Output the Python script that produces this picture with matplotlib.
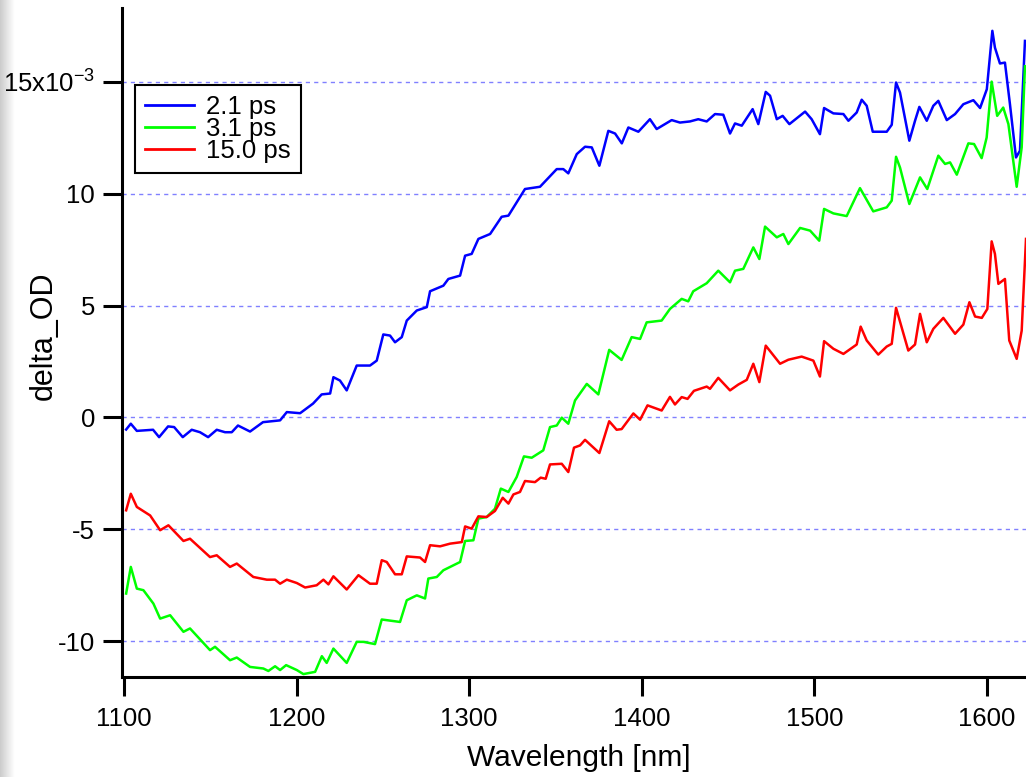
import numpy as np
import matplotlib
matplotlib.use('Agg')
import matplotlib.pyplot as plt

plt.rcParams['font.family'] = ['Liberation Sans', 'DejaVu Sans']
plt.rcParams['mathtext.fontset'] = 'custom'
plt.rcParams['mathtext.rm'] = 'Liberation Sans'
plt.rcParams['mathtext.default'] = 'regular'
plt.rcParams['axes.unicode_minus'] = False

# transient spectra, delta OD in units of 1e-3
wl_21 = [1101.2, 1103.9, 1107.4, 1116.8, 1120.3, 1125.5, 1129.0, 1134.0, 1139.2, 1144.0,
         1148.7, 1153.7, 1158.5, 1162.4, 1166.0, 1173.0, 1180.5, 1190.4, 1194.3, 1202.0,
         1209.5, 1214.5, 1219.4, 1221.3, 1225.1, 1229.0, 1234.8, 1242.5, 1246.4, 1250.2,
         1254.1, 1257.0, 1260.9, 1263.8, 1269.6, 1275.4, 1277.3, 1285.0, 1287.9, 1294.7,
         1297.6, 1301.4, 1305.3, 1312.1, 1318.8, 1322.7, 1332.3, 1341.0, 1350.7, 1354.5,
         1357.4, 1362.3, 1367.1, 1371.0, 1375.4, 1380.6, 1384.5, 1388.4, 1392.2, 1398.0,
         1404.7, 1408.6, 1417.3, 1422.1, 1427.9, 1432.7, 1437.6, 1442.4, 1447.2, 1451.1,
         1454.0, 1457.9, 1464.2, 1467.5, 1471.8, 1474.3, 1478.2, 1481.6, 1485.5, 1494.6,
         1498.4, 1503.2, 1505.6, 1511.0, 1516.8, 1519.7, 1524.5, 1527.4, 1530.3, 1533.8,
         1541.9, 1544.8, 1547.3, 1549.6, 1555.0, 1558.3, 1560.8, 1565.1, 1568.9, 1571.8,
         1576.7, 1581.5, 1586.3, 1592.1, 1596.0, 1599.9, 1603.1, 1604.6, 1607.5, 1610.4,
         1613.3, 1616.8, 1619.1, 1622.0]
od_21 = [-0.54, -0.28, -0.60, -0.55, -0.88, -0.40, -0.43, -0.88, -0.55, -0.66,
         -0.88, -0.55, -0.66, -0.66, -0.36, -0.63, -0.21, -0.13, 0.24, 0.19,
         0.62, 1.03, 1.07, 1.80, 1.65, 1.21, 2.32, 2.32, 2.54, 3.71,
         3.66, 3.36, 3.59, 4.33, 4.78, 4.93, 5.64, 5.89, 6.19, 6.34,
         7.23, 7.31, 7.98, 8.20, 8.97, 9.02, 10.21, 10.31, 11.10, 11.10,
         10.91, 11.77, 12.10, 12.07, 11.25, 12.81, 12.69, 12.25, 12.96, 12.77,
         13.33, 12.89, 13.29, 13.18, 13.23, 13.33, 13.23, 13.56, 13.53, 12.69,
         13.14, 13.04, 13.78, 13.11, 14.55, 14.38, 13.33, 13.48, 13.11, 13.67,
         13.33, 12.66, 13.83, 13.59, 13.56, 13.26, 13.63, 14.20, 13.93, 12.77,
         12.77, 13.08, 14.97, 14.52, 12.37, 13.26, 13.88, 13.26, 13.93, 14.15,
         13.29, 13.56, 14.00, 14.18, 13.83, 14.67, 17.28, 16.53, 15.82, 15.86,
         14.00, 11.62, 11.92, 16.83]

wl_31 = [1101.2, 1103.9, 1107.4, 1111.2, 1117.0, 1120.9, 1126.7, 1134.4, 1138.2, 1149.8,
         1152.7, 1161.4, 1165.3, 1173.0, 1180.7, 1183.6, 1187.5, 1190.4, 1193.9, 1200.1,
         1203.9, 1210.7, 1214.6, 1217.4, 1221.3, 1229.0, 1234.8, 1238.7, 1245.4, 1249.3,
         1259.9, 1263.8, 1269.6, 1274.4, 1276.3, 1281.2, 1285.0, 1294.7, 1297.6, 1302.4,
         1305.3, 1310.1, 1314.9, 1318.3, 1322.7, 1327.5, 1331.7, 1336.2, 1342.9, 1346.8,
         1350.7, 1353.6, 1357.4, 1361.3, 1368.1, 1374.8, 1381.1, 1388.3, 1394.1, 1399.0,
         1402.8, 1411.5, 1416.3, 1423.1, 1426.9, 1429.8, 1437.6, 1444.3, 1451.1, 1454.0,
         1458.8, 1464.6, 1468.1, 1471.4, 1478.2, 1482.0, 1484.9, 1491.7, 1497.5, 1502.8,
         1505.6, 1511.0, 1518.7, 1526.4, 1534.1, 1541.9, 1544.8, 1547.3, 1549.6, 1555.0,
         1561.2, 1565.4, 1571.8, 1575.7, 1578.6, 1582.5, 1589.2, 1592.5, 1596.9, 1599.8,
         1602.7, 1605.9, 1609.4, 1612.4, 1617.2, 1620.1, 1622.0]
od_31 = [-7.87, -6.68, -7.65, -7.72, -8.32, -8.99, -8.84, -9.58, -9.43, -10.40,
         -10.25, -10.85, -10.73, -11.15, -11.22, -11.33, -11.12, -11.29, -11.07, -11.29,
         -11.47, -11.37, -10.67, -10.97, -10.33, -10.97, -10.03, -10.03, -10.13, -9.03,
         -9.14, -8.17, -7.95, -8.09, -7.20, -7.13, -6.83, -6.46, -5.52, -5.49,
         -4.52, -4.45, -4.08, -3.18, -3.33, -2.66, -1.74, -1.80, -1.47, -0.43,
         -0.36, -0.01, -0.28, 0.76, 1.50, 1.03, 3.02, 2.57, 3.59, 3.51,
         4.25, 4.33, 4.85, 5.30, 5.19, 5.64, 6.00, 6.56, 6.04, 6.56,
         6.64, 7.60, 7.08, 8.53, 8.05, 8.20, 7.75, 8.47, 8.35, 7.90,
         9.32, 9.12, 9.00, 10.25, 9.21, 9.39, 9.69, 11.65, 11.17, 9.54,
         10.73, 10.21, 11.70, 11.33, 11.40, 10.85, 12.25, 12.22, 11.59, 12.51,
         15.01, 13.48, 13.85, 13.11, 10.31, 12.07, 15.70]

wl_150 = [1101.2, 1103.9, 1107.4, 1115.1, 1120.9, 1125.7, 1134.4, 1138.2, 1149.8, 1153.7,
          1161.4, 1165.3, 1174.9, 1182.7, 1187.5, 1190.4, 1194.3, 1200.1, 1204.9, 1211.6,
          1215.5, 1218.4, 1221.3, 1229.0, 1235.8, 1242.5, 1246.4, 1249.3, 1252.2, 1257.0,
          1260.9, 1263.8, 1271.5, 1274.4, 1277.3, 1283.1, 1288.9, 1295.7, 1297.6, 1301.4,
          1305.3, 1310.1, 1314.9, 1319.4, 1322.7, 1325.6, 1329.4, 1332.3, 1338.1, 1341.4,
          1344.3, 1346.8, 1353.6, 1357.4, 1360.7, 1364.2, 1367.1, 1375.4, 1381.1, 1385.4,
          1388.3, 1395.1, 1399.0, 1403.3, 1411.5, 1416.3, 1419.2, 1423.1, 1426.5, 1430.2,
          1437.6, 1439.5, 1444.3, 1451.1, 1455.9, 1460.8, 1464.6, 1468.1, 1471.8, 1480.1,
          1484.9, 1492.6, 1499.4, 1503.2, 1505.6, 1511.0, 1516.8, 1524.5, 1526.8, 1530.3,
          1537.0, 1541.9, 1544.8, 1547.3, 1554.4, 1558.3, 1561.2, 1565.1, 1568.9, 1574.7,
          1581.5, 1586.3, 1589.8, 1593.1, 1597.0, 1600.2, 1602.7, 1604.6, 1606.6, 1610.4,
          1612.9, 1617.2, 1620.1, 1622.6]
od_150 = [-4.15, -3.41, -4.00, -4.38, -5.04, -4.82, -5.52, -5.42, -6.24, -6.16,
          -6.68, -6.53, -7.13, -7.25, -7.25, -7.43, -7.25, -7.40, -7.60, -7.50,
          -7.25, -7.46, -7.10, -7.69, -7.05, -7.43, -7.43, -6.38, -6.46, -7.01,
          -7.01, -6.21, -6.26, -6.46, -5.71, -5.76, -5.64, -5.57, -4.87, -4.97,
          -4.42, -4.45, -4.18, -3.59, -3.85, -3.44, -3.33, -2.84, -2.89, -2.69,
          -2.74, -2.10, -2.07, -2.44, -1.35, -1.25, -1.00, -1.59, -0.17, -0.55,
          -0.52, 0.18, -0.10, 0.54, 0.31, 0.92, 0.58, 0.91, 0.83, 1.19,
          1.38, 1.28, 1.77, 1.21, 1.47, 1.68, 2.40, 1.58, 3.21, 2.40,
          2.58, 2.72, 2.54, 1.83, 3.41, 3.07, 2.84, 3.26, 4.06, 3.44,
          2.81, 3.17, 3.29, 4.90, 2.99, 3.26, 4.63, 3.36, 3.96, 4.45,
          3.74, 4.15, 5.15, 4.51, 4.45, 4.85, 7.87, 7.31, 5.97, 6.19,
          3.44, 2.62, 3.88, 7.98]

labels = ['2.1 ps', '3.1 ps', '15.0 ps']
colors = ['#0000ff', '#00ff00', '#ff0000']

x_ticks = [1100, 1200, 1300, 1400, 1500, 1600]
y_ticks = [-10, -5, 0, 5, 10, 15]
y_ticklabels = ['-10', '-5', '0', '5', '10', '15x10$^{-3}$']

fig = plt.figure(figsize=(10.26, 7.77), dpi=100)

# grey shading along the left border
edge = fig.add_axes([0, 0, 0.014, 1])
shade = np.linspace(0.80, 1.0, 20)[None, :]
edge.imshow(np.repeat(shade, 10, axis=0), cmap='gray', vmin=0, vmax=1, aspect='auto',
            extent=(0, 1, 0, 1))
edge.axis('off')

ax = fig.add_axes([122 / 1026, 100 / 777, 904 / 1026, 669 / 777])

for wl, od, lab, c in zip([wl_21, wl_31, wl_150], [od_21, od_31, od_150], labels, colors):
    ax.plot(wl, od, color=c, lw=1.8, label=lab)

ax.set_xlim(1098.8, 1622.6)
ax.set_ylim(-11.6, 18.3)

ax.set_xticks(x_ticks)
ax.set_yticks(y_ticks)
ax.set_yticklabels(y_ticklabels)

ax.yaxis.grid(True, color='#8080ff', lw=1.0, linestyle=(0, (3, 3)))
ax.set_axisbelow(True)

for side in ['top', 'right']:
    ax.spines[side].set_visible(False)
for side in ['left', 'bottom']:
    ax.spines[side].set_linewidth(2.2)

ax.tick_params(axis='both', direction='out', length=13.5, width=2.2, labelsize=18.5,
               colors='black')
ax.tick_params(axis='y', pad=6)
ax.tick_params(axis='x', pad=8)

ax.set_xlabel('Wavelength [nm]', fontsize=21.5)
ax.set_ylabel('delta_OD', fontsize=22)
ax.xaxis.set_label_coords(0.5055, -0.100)
ax.yaxis.set_label_coords(-0.070, 0.51)

leg = ax.legend(loc='upper left', bbox_to_anchor=(0.0144, 0.885), borderaxespad=0,
                fontsize=18.5, frameon=True, fancybox=False, framealpha=1,
                edgecolor='black', labelspacing=-0.08, handlelength=1.9,
                handletextpad=0.45, borderpad=0.4)
leg.get_frame().set_linewidth(1.5)
for h in leg.get_lines():
    h.set_linewidth(2.0)

fig.savefig('out.png', dpi=100)
